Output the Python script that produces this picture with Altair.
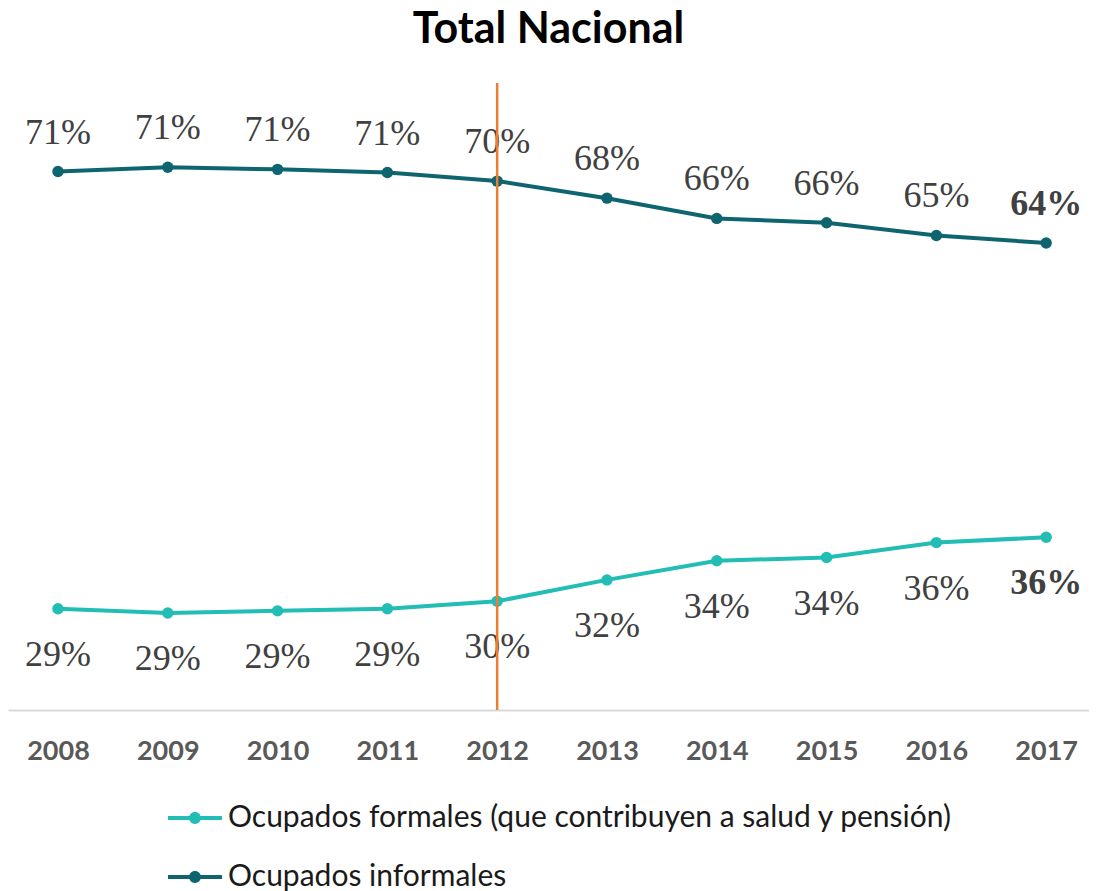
import altair as alt
import pandas as pd

years = [2008, 2009, 2010, 2011, 2012, 2013, 2014, 2015, 2016, 2017]
informal = [70.5, 70.9, 70.7, 70.4, 69.6, 68.0, 66.1, 65.7, 64.5, 63.8]
formal = [29.5, 29.1, 29.3, 29.5, 30.2, 32.2, 34.0, 34.3, 35.7, 36.2]
informal_labels = ["71%", "71%", "71%", "71%", "70%", "68%", "66%", "66%", "65%", "64%"]
formal_labels = ["29%", "29%", "29%", "29%", "30%", "32%", "34%", "34%", "36%", "36%"]
series_names = ["Ocupados formales (que contribuyen a salud y pensión)", "Ocupados informales"]
colors = ["#22BDB5", "#0E6570"]
marker_year = [2012]

rows = []
for i, yr in enumerate(years):
    rows.append({"year": yr, "serie": series_names[0], "value": formal[i], "label": formal_labels[i]})
    rows.append({"year": yr, "serie": series_names[1], "value": informal[i], "label": informal_labels[i]})
df = pd.DataFrame(rows)

W, H = 1081, 627

xscale = alt.Scale(domain=[2007.545, 2017.39], nice=False, zero=False)
yscale = alt.Scale(domain=[20, 78.8], nice=False, zero=False)

x = alt.X("year:Q", scale=xscale,
          axis=alt.Axis(values=years, format="d", title=None, ticks=False, grid=False,
                        domainColor="#D9D9D9", domainWidth=2, labelFont="Lato",
                        labelFontWeight="bold", labelFontSize=27, labelColor="#595959",
                        labelPadding=28, labelFlush=False))
y = alt.Y("value:Q", scale=yscale, axis=None)

sym_path = ("M-1,-0.075L1,-0.075L1,0.075L-1,0.075Z "
            "M0.22,0A0.22,0.22 0 1,1 -0.22,0A0.22,0.22 0 1,1 0.22,0Z")

legend = alt.Legend(title=None, orient="none", legendX=160, legendY=708, direction="vertical",
                    symbolType=sym_path, symbolSize=2916, symbolStrokeWidth=0,
                    labelFont="Lato", labelFontSize=30, labelColor="#1A1A1A",
                    labelOffset=6, rowPadding=17, padding=0, labelLimit=2000, symbolOpacity=1)

color = alt.Color("serie:N", scale=alt.Scale(domain=series_names, range=colors), legend=legend)

base = alt.Chart(df)

lines = base.mark_line(strokeWidth=4).encode(x=x, y=y, color=color)
points = base.mark_circle(size=130, opacity=1).encode(x=x, y=y, color=color)

def labels(serie, dy, bold):
    flt = (alt.datum.serie == serie) & ((alt.datum.year == 2017) if bold else (alt.datum.year != 2017))
    return base.transform_filter(flt).mark_text(
        font="Liberation Serif", fontSize=36, fontWeight="bold" if bold else "normal",
        color="#404040", dy=dy, baseline="alphabetic", align="center"
    ).encode(x=x, y=y, text="label:N")

texts = [
    labels(series_names[1], -28, False),
    labels(series_names[1], -28, True),
    labels(series_names[0], 57, False),
    labels(series_names[0], 57, True),
]

rule = alt.Chart(pd.DataFrame({"year": marker_year})).mark_rule(
    color="#ED7D31", strokeWidth=2.5
).encode(x=alt.X("year:Q", scale=xscale), y=alt.value(0), y2=alt.value(H))

chart = alt.layer(lines, points, *texts, rule).properties(
    width=W, height=H,
    title=alt.TitleParams("Total Nacional", font="Lato", fontSize=43, fontWeight="bold",
                          color="#000000", anchor="middle", offset=30),
    autosize=alt.AutoSizeParams(type="none"),
    padding={"left": 0, "top": 75, "right": 0, "bottom": 181},
).configure_view(stroke=None)

chart.save("out.html", embed_options={"renderer": "svg", "actions": False})
